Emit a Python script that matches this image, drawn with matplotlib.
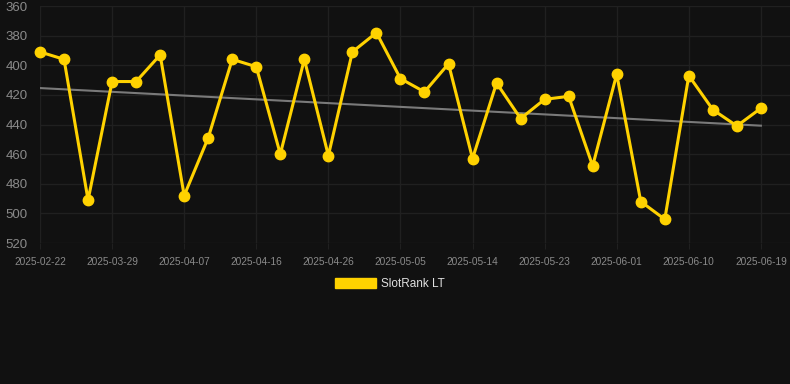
import numpy as np
import matplotlib
matplotlib.use("Agg")
import matplotlib.pyplot as plt
from matplotlib.patches import Patch

# values, one point per snapshot
rank = [391, 396, 491, 411, 411, 393, 488, 449, 396, 401,
        460, 396, 461, 391, 378, 409, 418, 399, 463, 412,
        436, 423, 421, 468, 406, 492, 504, 407, 430, 441, 429]

# only every third date is labelled on the axis
tick_labels = ["2025-02-22", "2025-03-29", "2025-04-07", "2025-04-16",
               "2025-04-26", "2025-05-05", "2025-05-14", "2025-05-23",
               "2025-06-01", "2025-06-10", "2025-06-19"]
tick_step = 3

series_name = "SlotRank LT"

bg = "#111111"
grid_c = "#202020"
text_c = "#8a8a8a"
gold = "#FFD200"

plt.rcParams['font.family'] = ['Liberation Sans', 'DejaVu Sans']

fig = plt.figure(figsize=(7.9, 3.84), dpi=100, facecolor=bg)
ax = fig.add_axes([40 / 790, 141 / 384, 750 / 790, 237 / 384])
ax.set_facecolor(bg)

x = np.arange(len(rank))
y = np.array(rank, dtype=float)

# linear trend through the series
k, b = np.polyfit(x, y, 1)
ax.plot(x, k * x + b, color="#7a7a7a", lw=1.5, zorder=2)

ax.plot(x, y, color=gold, lw=2.2, marker="o", ms=7.5,
        markerfacecolor=gold, markeredgecolor=gold, zorder=3, clip_on=False)

ax.set_xlim(0, 750 / 24.03)
ax.set_ylim(520, 360)
ax.set_yticks(np.arange(360, 521, 20))
ax.set_xticks(x[::tick_step])
ax.set_xticklabels(tick_labels)

ax.grid(True, color=grid_c, lw=1)
ax.set_axisbelow(True)
for s in ax.spines.values():
    s.set_visible(False)

ax.tick_params(axis="y", length=0, pad=9, labelsize=9.5, labelcolor=text_c)
ax.tick_params(axis="x", length=4, color=grid_c, pad=6, labelsize=7.3, labelcolor=text_c)

handle = Patch(facecolor=gold, edgecolor=gold, label=series_name)
leg = fig.legend(handles=[handle], loc="center", bbox_to_anchor=(0.494, 1 - 284 / 384),
                 frameon=False, fontsize=8.5, handlelength=3.4, handleheight=1.0,
                 handletextpad=0.5, borderaxespad=0)
for t in leg.get_texts():
    t.set_color("#e0e0e0")

fig.savefig("out.png", dpi=100, facecolor=bg)
